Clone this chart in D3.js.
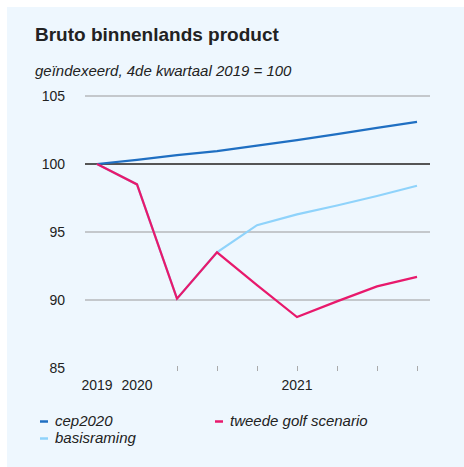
<!DOCTYPE html>
<html>
<head>
<meta charset="utf-8">
<script src="https://cdn.jsdelivr.net/npm/d3@7"></script>
<style>
  body { margin: 0; background: #fff; }
  text { font-family: "Liberation Sans", Arial, sans-serif; fill: #222; }
</style>
</head>
<body>
<div id="chart"></div>
<script>
// quarters 2019 Q4 .. 2021 Q4
var quarters = ["2019K4", "2020K1", "2020K2", "2020K3", "2020K4", "2021K1", "2021K2", "2021K3", "2021K4"];
var yearLabels = [{ q: "2019K4", label: "2019" }, { q: "2020K1", label: "2020" }, { q: "2021K1", label: "2021" }];
var yTicks = [85, 90, 95, 100, 105];

var cep2020 = [100, 100.3, 100.65, 100.95, 101.35, 101.75, 102.2, 102.65, 103.1];
var basisraming = [100, 98.5, 90.1, 93.5, 95.5, 96.3, 96.95, 97.65, 98.4];
var tweedeGolf = [100, 98.5, 90.1, 93.5, 91.1, 88.75, 89.9, 91.0, 91.7];

var seriesNames = ["cep2020", "basisraming", "tweede golf scenario"];
var colors = { "cep2020": "#1f6fc2", "basisraming": "#8fd3fb", "tweede golf scenario": "#e8196c" };

var width = 464, height = 467;

var svg = d3.select("#chart")
  .append("svg")
    .attr("width", width)
    .attr("height", height);

// light blue panel
svg.append("rect")
    .attr("x", 7).attr("y", 7)
    .attr("width", width - 7).attr("height", height - 7)
    .style("fill", "#eef7fe");

// title and subtitle
svg.append("text")
    .attr("x", 35).attr("y", 41)
    .style("font-size", "19px").style("font-weight", "bold")
    .text("Bruto binnenlands product");

svg.append("text")
    .attr("x", 35).attr("y", 76)
    .style("font-size", "15px").style("font-style", "italic")
    .text("geïndexeerd, 4de kwartaal 2019 = 100");

// scales
var x = d3.scalePoint().domain(quarters).range([97, 417]);
var y = d3.scaleLinear().domain([85, 105]).range([368, 96]);

// gridlines
svg.append("g").selectAll("line")
  .data(yTicks.filter(function(d) { return d > 85; }))
  .enter().append("line")
    .attr("x1", 85).attr("x2", 430)
    .attr("y1", function(d) { return y(d); })
    .attr("y2", function(d) { return y(d); })
    .style("stroke", function(d) { return d == 100 ? "#555" : "#999"; })
    .style("stroke-width", function(d) { return d == 100 ? 2.2 : 1.2; });

// y axis labels
var yAxis = svg.append("g")
    .attr("transform", "translate(67,0)")
    .call(d3.axisLeft(y).tickValues(yTicks).tickSize(0).tickPadding(2));
yAxis.select(".domain").remove();
yAxis.selectAll("text").style("font-size", "14px").style("font-family", "Liberation Sans, Arial, sans-serif").attr("fill", "#222");

// x axis ticks (not under the first two labels)
var xAxis = svg.append("g")
    .attr("transform", "translate(0,366)")
    .call(d3.axisBottom(x).tickValues(quarters.slice(2)).tickSize(5).tickFormat(""));
xAxis.select(".domain").remove();
xAxis.selectAll("line").style("stroke", "#aaa");

// x axis year labels
svg.append("g").selectAll("text")
  .data(yearLabels)
  .enter().append("text")
    .attr("x", function(d) { return x(d.q); })
    .attr("y", 390)
    .attr("text-anchor", "middle")
    .style("font-size", "14px")
    .text(function(d) { return d.label; });

// lines
var line = d3.line()
    .x(function(d, i) { return x(quarters[i]); })
    .y(function(d) { return y(d); });

var seriesData = [
  { name: "basisraming", values: basisraming },
  { name: "cep2020", values: cep2020 },
  { name: "tweede golf scenario", values: tweedeGolf }
];

svg.append("g").selectAll("path")
  .data(seriesData)
  .enter().append("path")
    .attr("d", function(d) { return line(d.values); })
    .style("fill", "none")
    .style("stroke", function(d) { return colors[d.name]; })
    .style("stroke-width", 2.2)
    .style("stroke-linejoin", "miter");

// legend
var legendPos = {
  "cep2020": [40, 426],
  "basisraming": [40, 443],
  "tweede golf scenario": [215, 426]
};
var legend = svg.append("g").selectAll("g")
  .data(seriesNames)
  .enter().append("g")
    .attr("transform", function(d) { return "translate(" + legendPos[d][0] + "," + legendPos[d][1] + ")"; });

legend.append("line")
    .attr("x1", 0).attr("x2", 8)
    .attr("y1", -4.5).attr("y2", -4.5)
    .style("stroke", function(d) { return colors[d]; })
    .style("stroke-width", 2.5);

legend.append("text")
    .attr("x", 15).attr("y", 0)
    .style("font-size", "15px").style("font-style", "italic")
    .text(function(d) { return d; });
</script>
</body>
</html>
